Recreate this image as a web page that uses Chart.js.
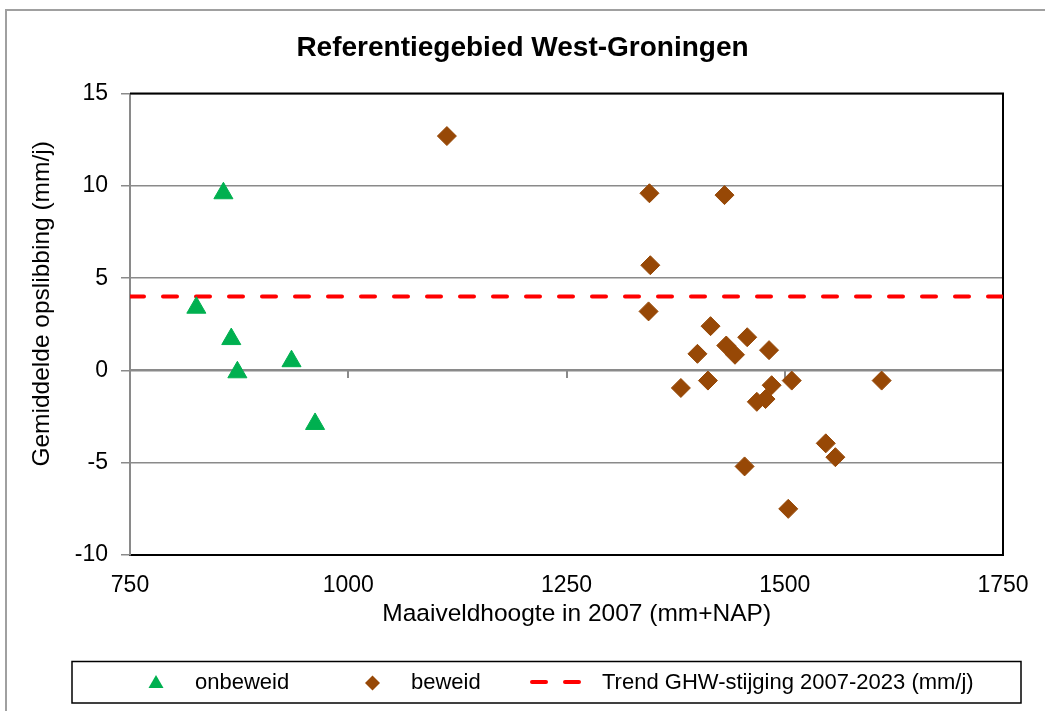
<!DOCTYPE html>
<html>
<head>
<meta charset="utf-8">
<title>Referentiegebied West-Groningen</title>
<script src="https://cdn.jsdelivr.net/npm/chart.js@4.4.1/dist/chart.umd.min.js"></script>
<style>
  html, body { margin: 0; padding: 0; background: #fff; }
  #chart { display: block; }
</style>
</head>
<body>
<canvas id="chart" width="1045" height="711"></canvas>
<script>
// values
const onbeweidX = [826, 857, 866, 873, 935, 962];
const onbeweidY = [3.4, 9.6, 1.7, -0.1, 0.5, -2.9];

const beweidX = [1113, 1345, 1431, 1346, 1344, 1415, 1457, 1400, 1433, 1443, 1482,
                 1381, 1412, 1485, 1508, 1611, 1468, 1478, 1547, 1558, 1454, 1504];
const beweidY = [12.7, 9.6, 9.5, 5.7, 3.2, 2.4, 1.8, 0.9, 1.35, 0.85, 1.1,
                 -0.95, -0.55, -0.8, -0.55, -0.55, -1.7, -1.55, -3.95, -4.7, -5.2, -7.5];

const trendX = [750, 1750];
const trendY = [4, 4];

const xTicks = [750, 1000, 1250, 1500, 1750];
const yTicks = [-10, -5, 0, 5, 10, 15];

const labels = ['onbeweid', 'beweid', 'Trend GHW-stijging 2007-2023 (mm/j)'];

const GREEN = '#00B050';
const BROWN = '#974806';
const RED = '#FF0000';
const GRID = '#8a8a8a';

function toPoints(xs, ys) {
	return xs.map((x, i) => ({ x: x, y: ys[i] }));
}

Chart.defaults.font.family = '"Liberation Sans", Arial, sans-serif';
Chart.defaults.color = '#000';

// outer chart border + black frame on top/right of the plot area
const framePlugin = {
	id: 'frame',
	beforeDraw(chart) {
		const ctx = chart.ctx;
		ctx.save();
		ctx.fillStyle = '#fff';
		ctx.fillRect(0, 0, chart.width, chart.height);
		ctx.strokeStyle = '#a0a0a0';
		ctx.lineWidth = 2;
		ctx.strokeRect(6, 10, chart.width + 50, chart.height + 50);
		ctx.restore();
	},
	beforeDatasetsDraw(chart) {
		const a = chart.chartArea;
		const ctx = chart.ctx;
		ctx.save();
		ctx.strokeStyle = '#000';
		ctx.lineWidth = 2;
		ctx.beginPath();
		ctx.moveTo(a.left, a.top);
		ctx.lineTo(a.right, a.top);
		ctx.lineTo(a.right, a.bottom);
		ctx.stroke();
		ctx.restore();
	}
};

// boxed legend like the Excel one
const boxLegend = {
	id: 'boxLegend',
	afterDraw(chart) {
		const ctx = chart.ctx;
		const cy = 683;
		ctx.save();
		ctx.strokeStyle = '#000';
		ctx.lineWidth = 1.5;
		ctx.strokeRect(72, 661.5, 949, 41.5);

		ctx.font = '22px "Liberation Sans", Arial, sans-serif';
		ctx.textBaseline = 'middle';
		ctx.textAlign = 'left';

		// triangle
		let cx = 156;
		ctx.fillStyle = GREEN;
		ctx.beginPath();
		ctx.moveTo(cx, cy - 8);
		ctx.lineTo(cx + 7.5, cy + 5);
		ctx.lineTo(cx - 7.5, cy + 5);
		ctx.closePath();
		ctx.fill();
		ctx.fillStyle = '#000';
		ctx.fillText(labels[0], cx + 39, cy);

		// diamond
		cx = 372.5;
		ctx.fillStyle = BROWN;
		ctx.beginPath();
		ctx.moveTo(cx, cy - 7.5);
		ctx.lineTo(cx + 7.5, cy);
		ctx.lineTo(cx, cy + 7.5);
		ctx.lineTo(cx - 7.5, cy);
		ctx.closePath();
		ctx.fill();
		ctx.fillStyle = '#000';
		ctx.fillText(labels[1], cx + 38.5, cy);

		// dashed line
		ctx.strokeStyle = RED;
		ctx.lineWidth = 4;
		ctx.lineCap = 'round';
		ctx.setLineDash([14, 19]);
		ctx.beginPath();
		ctx.moveTo(532, cy - 1);
		ctx.lineTo(582, cy - 1);
		ctx.stroke();
		ctx.setLineDash([]);
		ctx.fillStyle = '#000';
		ctx.fillText(labels[2], 602, cy);
		ctx.restore();
	}
};

const ctx = document.getElementById('chart');
const chart = new Chart(ctx, {
	data: {
		datasets: [{
			type: 'scatter',
			label: labels[0],
			data: toPoints(onbeweidX, onbeweidY),
			pointStyle: 'triangle',
			pointRadius: 11,
			pointHoverRadius: 11,
			backgroundColor: GREEN,
			borderColor: GREEN,
			borderWidth: 1
		}, {
			type: 'scatter',
			label: labels[1],
			data: toPoints(beweidX, beweidY),
			pointStyle: 'rectRot',
			pointRadius: 9.5,
			pointHoverRadius: 9.5,
			backgroundColor: BROWN,
			borderColor: BROWN,
			borderWidth: 1
		}, {
			type: 'line',
			label: labels[2],
			data: toPoints(trendX, trendY),
			borderColor: RED,
			backgroundColor: RED,
			borderWidth: 4,
			borderDash: [14, 19],
			borderCapStyle: 'round',
			pointRadius: 0,
			fill: false
		}]
	},
	options: {
		responsive: false,
		animation: false,
		events: [],
		layout: { padding: { left: 0, right: 0, top: 0, bottom: 81 } },
		plugins: {
			legend: { display: false },
			tooltip: { enabled: false },
			title: {
				display: true,
				text: 'Referentiegebied West-Groningen',
				font: { size: 28, weight: 'bold' },
				color: '#000',
				padding: { top: 31, bottom: 29 }
			}
		},
		scales: {
			x: {
				type: 'linear',
				position: 'bottom',
				min: 750,
				max: 1750,
				afterBuildTicks: (s) => { s.ticks = xTicks.map(v => ({ value: v })); },
				ticks: { font: { size: 23 }, color: '#000', padding: 17, maxRotation: 0,
					callback: (v) => String(v) },
				grid: { display: false, drawTicks: false },
				border: { color: '#000', width: 2 },
				title: {
					display: true,
					text: '   Maaiveldhoogte in 2007 (mm+NAP)',
					font: { size: 24.5 },
					color: '#000',
					padding: { top: 0, bottom: 1 }
				},
				afterFit: (s) => { s.height = 75; s.paddingRight = 42; }
			},
			x2: {
				type: 'linear',
				axis: 'x',
				position: { y: 0 },
				min: 750,
				max: 1750,
				afterBuildTicks: (s) => { s.ticks = xTicks.map(v => ({ value: v })); },
				ticks: { display: false },
				grid: { drawOnChartArea: false, drawTicks: true, tickLength: 7, color: GRID, lineWidth: 2 },
				border: { color: GRID, width: 2 }
			},
			y: {
				type: 'linear',
				position: 'left',
				min: -10,
				max: 15,
				afterBuildTicks: (s) => { s.ticks = yTicks.map(v => ({ value: v })); },
				ticks: { font: { size: 23 }, color: '#000', padding: 13,
					callback: (v) => String(v) },
				grid: { color: GRID, lineWidth: 1.5, tickLength: 9, tickColor: GRID },
				border: { color: GRID, width: 2 },
				title: {
					display: true,
					text: '      Gemiddelde opslibbing (mm/j)',
					font: { size: 24.5 },
					color: '#000',
					padding: { top: 28, bottom: 0 }
				},
				afterFit: (s) => { s.width = 130; }
			}
		}
	},
	plugins: [framePlugin, boxLegend]
});
</script>
</body>
</html>
